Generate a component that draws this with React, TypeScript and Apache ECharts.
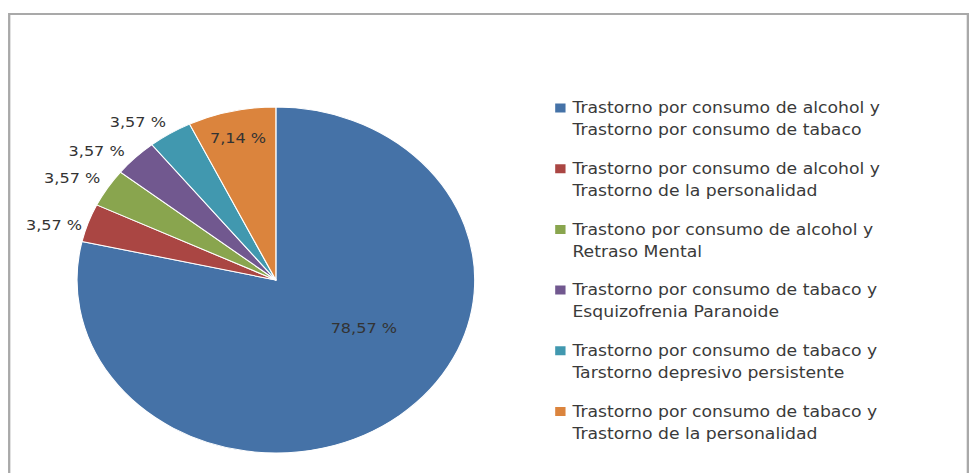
import React, { useEffect, useRef } from "react";
import * as echarts from "echarts";

const CATEGORIES = [
  "Trastorno por consumo de alcohol y\nTrastorno por consumo de tabaco",
  "Trastorno por consumo de alcohol y\nTrastorno de la personalidad",
  "Trastono por consumo de alcohol y\nRetraso Mental",
  "Trastorno por consumo de tabaco y\nEsquizofrenia Paranoide",
  "Trastorno por consumo de tabaco y\nTarstorno depresivo persistente",
  "Trastorno por consumo de tabaco y\nTrastorno de la personalidad",
];
const PERCENTAGES = [78.57, 3.57, 3.57, 3.57, 3.57, 7.14];

const COLORS = ["#4572A7", "#AA4643", "#89A54E", "#71588F", "#4198AF", "#DB843D"];
// label placement relative to the pie: radius factor and angular shift (deg) from slice mid-angle
const LABEL_RADIUS = [0.522, 1.16, 1.18, 1.17, 1.147, 0.843];
const LABEL_ANGLE_SHIFT = [-19.4, -3.4, -2.4, -5.4, -5.1, -0.2];

const LOCAL_W = 843;
const H = 473;
const STRETCH = 969 / LOCAL_W;
const CX = 240;
const CY = 280;
const R = 173;
const FONT = "DejaVu Sans";

export default function App() {
  const ref = useRef<HTMLDivElement>(null);
  useEffect(() => {
    if (!ref.current) return;
    const chart = echarts.init(ref.current, undefined, { renderer: "svg" });
    const total = PERCENTAGES.reduce((a, b) => a + b, 0);
    const mids: number[] = [];
    let cum = 0;
    PERCENTAGES.forEach((v) => {
      mids.push(((cum + v / 2) / total) * 360);
      cum += v;
    });
    chart.setOption({
      animation: false,
      backgroundColor: "#ffffff",
      color: COLORS,
      graphic: [
        {
          type: "rect",
          shape: { x: 8, y: 14, width: 834, height: 480 },
          style: { fill: "none", stroke: "#a9a9a9", lineWidth: 2 },
          silent: true,
        },
      ],
      legend: {
        orient: "vertical",
        left: 476,
        top: 70,
        itemGap: -5.3,
        itemWidth: 11,
        itemHeight: 11,
        icon: "rect",
        selectedMode: false,
        data: CATEGORIES,
        formatter: (name: string) => "\n" + name,
        textStyle: {
          fontFamily: FONT,
          fontSize: 15,
          color: "#3a3a3a",
          lineHeight: 22,
        },
      },
      series: [
        {
          type: "pie",
          center: [CX, CY],
          radius: R,
          startAngle: 90,
          clockwise: true,
          avoidLabelOverlap: false,
          itemStyle: { borderColor: "#ffffff", borderWidth: 1 },
          emphasis: { disabled: true },
          labelLine: { show: false },
          label: {
            show: true,
            position: "inside",
            fontFamily: FONT,
            fontSize: 14,
            color: "#333333",
            formatter: (p: any) => p.value.toFixed(2).replace(".", ",") + " %",
          },
          labelLayout: (p: any) => {
            const i = p.dataIndex;
            const a = ((mids[i] + LABEL_ANGLE_SHIFT[i]) * Math.PI) / 180;
            const rr = R * LABEL_RADIUS[i];
            return {
              x: CX + rr * Math.sin(a),
              y: CY - rr * Math.cos(a),
              align: "center",
              verticalAlign: "middle",
            };
          },
          data: CATEGORIES.map((name, i) => ({ name, value: PERCENTAGES[i] })),
        },
      ],
    });
    return () => chart.dispose();
  }, []);
  return (
    <div
      style={{
        position: "fixed",
        left: 0,
        top: 0,
        width: 969,
        height: H,
        overflow: "hidden",
        background: "#ffffff",
      }}
    >
      <div
        ref={ref}
        style={{
          width: LOCAL_W,
          height: H,
          transform: `scaleX(${STRETCH})`,
          transformOrigin: "0 0",
        }}
      />
    </div>
  );
}
